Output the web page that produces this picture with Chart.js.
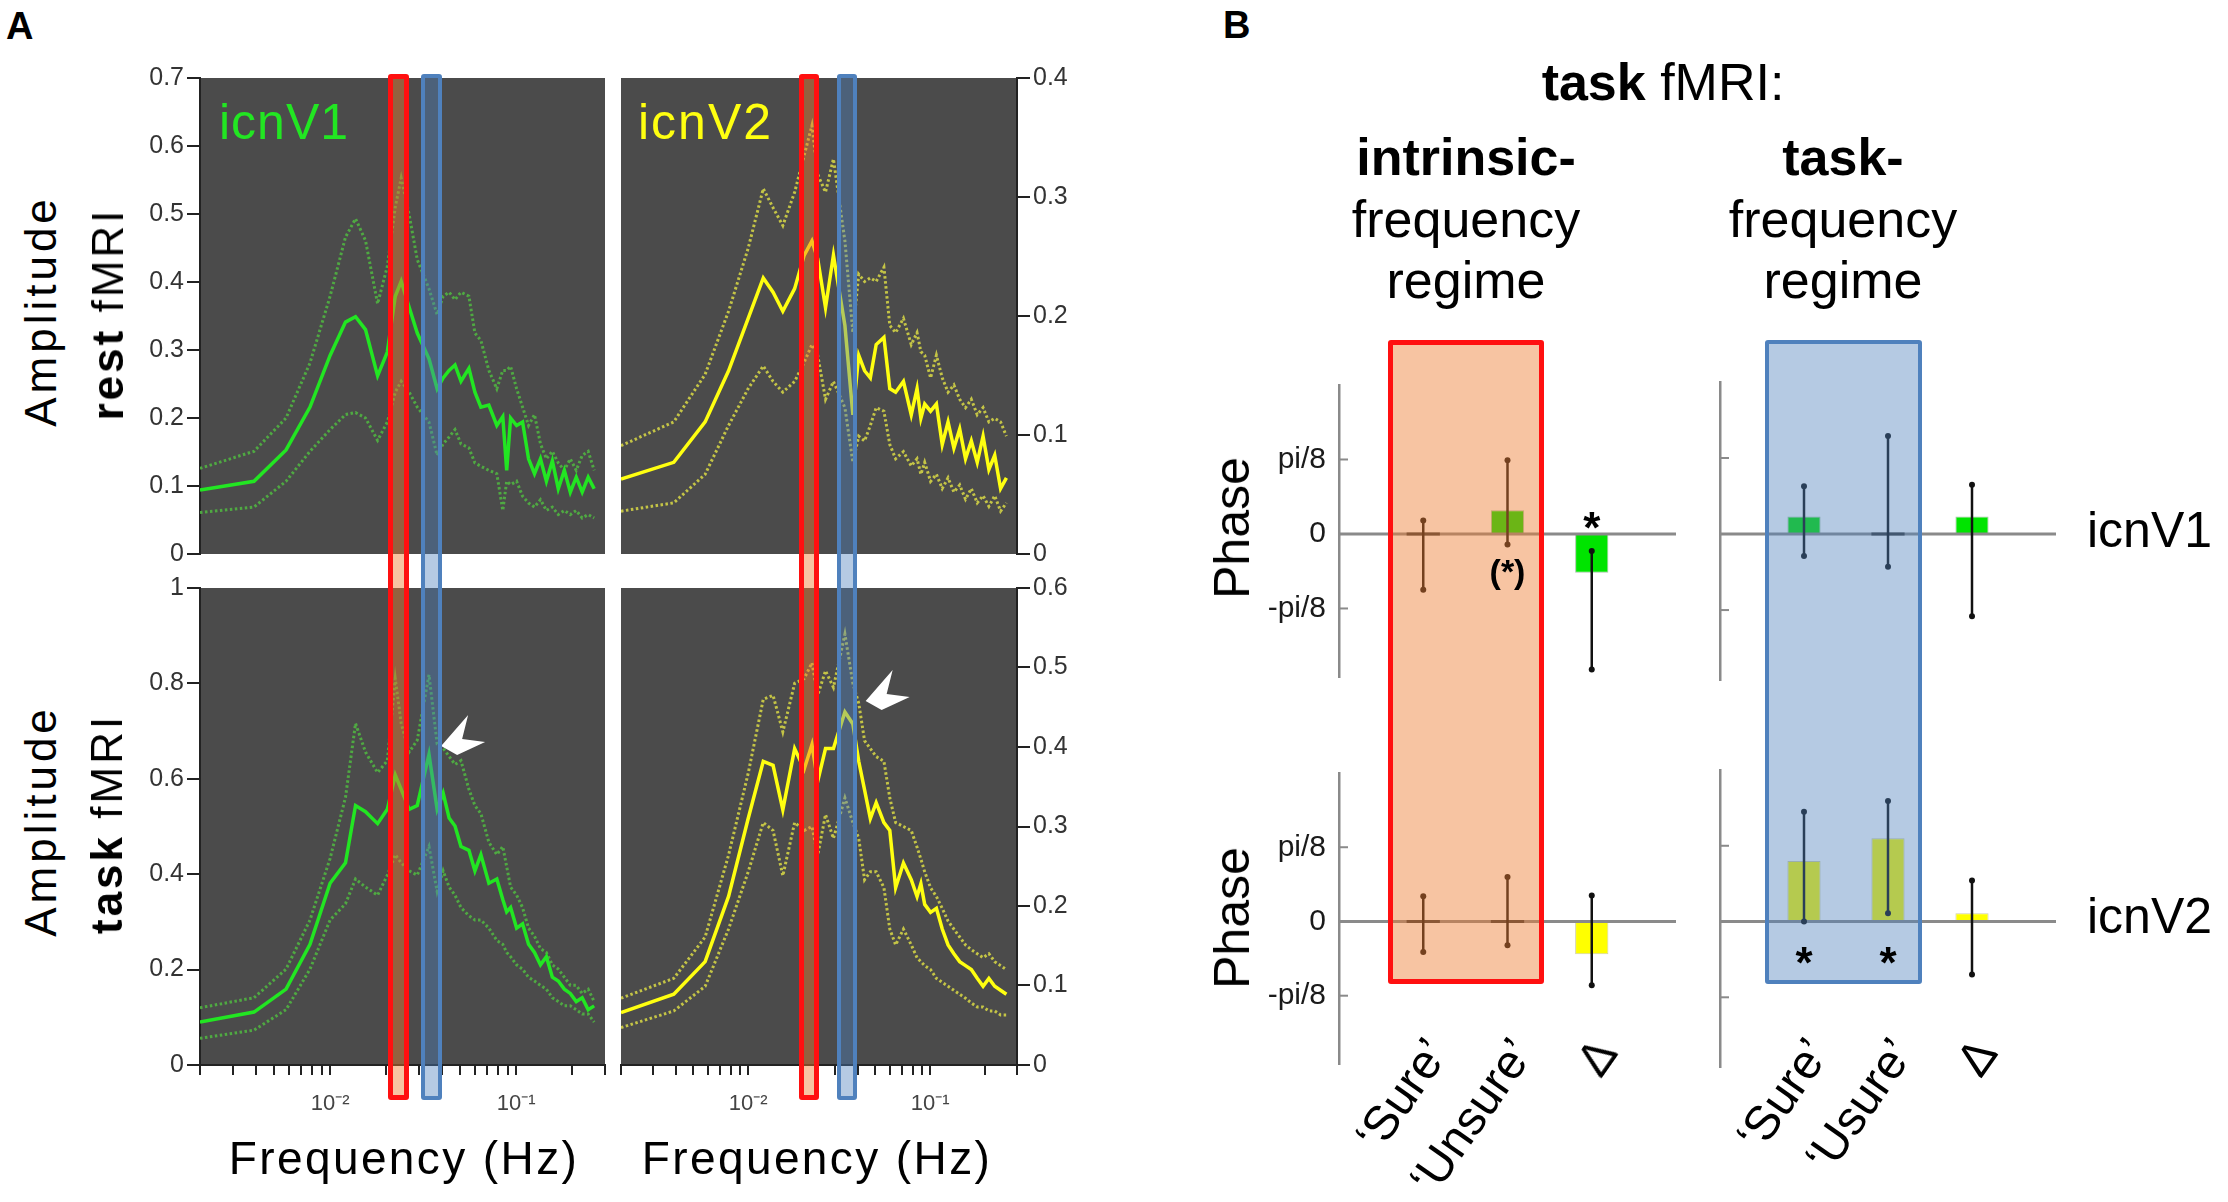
<!DOCTYPE html>
<html>
<head>
<meta charset="utf-8">
<title>Amplitude spectra and phase</title>
<script src="https://cdn.jsdelivr.net/npm/chart.js@4.4.1/dist/chart.umd.min.js"></script>
<style>
  html, body { margin: 0; padding: 0; background: #fff; }
  body { position: relative; width: 2228px; height: 1202px; overflow: hidden;
         font-family: "Liberation Sans", Arial, Helvetica, sans-serif; }
  canvas { position: absolute; }
  .txt { position: absolute; white-space: nowrap; line-height: 1; color: #000; }
  .band { position: absolute; box-sizing: border-box; border-radius: 3px; }
</style>
</head>
<body>
<script>
// ---------- Panel A: amplitude spectra ----------
const freqHz = [0.0020, 0.0039, 0.0058, 0.0078, 0.0100, 0.0121, 0.0137, 0.0155, 0.0180, 0.0203,
                0.0224, 0.0241, 0.0266, 0.0294, 0.0340, 0.0376, 0.0405, 0.0436, 0.0469, 0.0505,
                0.0557, 0.0600, 0.0646, 0.0713, 0.0787, 0.0847, 0.0889, 0.0933, 0.1005, 0.1082,
                0.1165, 0.1254, 0.1350, 0.1453, 0.1564, 0.1683, 0.1814, 0.1953, 0.2102, 0.2263,
                0.2437, 0.2624];

// rest fMRI, icnV1
const restV1Mean  = [0.094, 0.107, 0.153, 0.216, 0.292, 0.341, 0.349, 0.330, 0.262, 0.297, 0.379, 0.401, 0.363, 0.325, 0.287, 0.243, 0.259, 0.270, 0.278, 0.254, 0.273, 0.238, 0.216, 0.219, 0.189, 0.202, 0.123, 0.200, 0.189, 0.194, 0.140, 0.118, 0.140, 0.107, 0.137, 0.096, 0.123, 0.091, 0.113, 0.091, 0.113, 0.096];
const restV1Upper = [0.126, 0.151, 0.200, 0.281, 0.379, 0.466, 0.493, 0.461, 0.368, 0.423, 0.510, 0.553, 0.499, 0.433, 0.390, 0.352, 0.379, 0.385, 0.374, 0.385, 0.379, 0.325, 0.314, 0.270, 0.243, 0.270, 0.270, 0.276, 0.243, 0.216, 0.189, 0.205, 0.162, 0.140, 0.151, 0.134, 0.123, 0.140, 0.123, 0.145, 0.151, 0.123];
const restV1Lower = [0.061, 0.069, 0.107, 0.151, 0.183, 0.205, 0.208, 0.200, 0.167, 0.194, 0.238, 0.254, 0.238, 0.216, 0.194, 0.145, 0.162, 0.172, 0.183, 0.162, 0.156, 0.134, 0.129, 0.123, 0.118, 0.064, 0.107, 0.102, 0.107, 0.085, 0.075, 0.069, 0.080, 0.064, 0.069, 0.058, 0.064, 0.058, 0.064, 0.053, 0.058, 0.053];

// rest fMRI, icnV2
const restV2Mean  = [0.063, 0.077, 0.111, 0.154, 0.198, 0.232, 0.220, 0.204, 0.223, 0.251, 0.263, 0.248, 0.207, 0.251, 0.192, 0.117, 0.167, 0.154, 0.148, 0.176, 0.182, 0.139, 0.136, 0.145, 0.117, 0.139, 0.114, 0.126, 0.120, 0.126, 0.092, 0.111, 0.089, 0.105, 0.080, 0.095, 0.077, 0.099, 0.071, 0.083, 0.055, 0.064];
const restV2Upper = [0.091, 0.111, 0.151, 0.204, 0.257, 0.307, 0.291, 0.276, 0.304, 0.335, 0.360, 0.319, 0.304, 0.332, 0.263, 0.186, 0.235, 0.229, 0.232, 0.229, 0.241, 0.192, 0.186, 0.198, 0.176, 0.186, 0.170, 0.167, 0.148, 0.167, 0.148, 0.136, 0.142, 0.130, 0.123, 0.130, 0.117, 0.123, 0.111, 0.114, 0.111, 0.099];
const restV2Lower = [0.036, 0.043, 0.067, 0.108, 0.139, 0.158, 0.145, 0.136, 0.145, 0.161, 0.176, 0.167, 0.130, 0.145, 0.123, 0.077, 0.099, 0.095, 0.108, 0.123, 0.120, 0.092, 0.080, 0.086, 0.074, 0.080, 0.067, 0.077, 0.061, 0.067, 0.055, 0.064, 0.052, 0.058, 0.046, 0.055, 0.043, 0.049, 0.040, 0.049, 0.036, 0.043];

// task fMRI, icnV1
const taskV1Mean  = [0.090, 0.111, 0.159, 0.253, 0.381, 0.424, 0.544, 0.531, 0.506, 0.536, 0.608, 0.578, 0.536, 0.544, 0.651, 0.536, 0.570, 0.518, 0.501, 0.458, 0.450, 0.407, 0.441, 0.381, 0.390, 0.347, 0.321, 0.330, 0.287, 0.296, 0.253, 0.236, 0.210, 0.227, 0.184, 0.176, 0.159, 0.150, 0.133, 0.141, 0.116, 0.124];
const taskV1Upper = [0.120, 0.141, 0.201, 0.304, 0.433, 0.561, 0.716, 0.656, 0.613, 0.638, 0.810, 0.716, 0.656, 0.681, 0.818, 0.673, 0.664, 0.647, 0.630, 0.638, 0.578, 0.544, 0.527, 0.467, 0.441, 0.458, 0.416, 0.373, 0.356, 0.330, 0.287, 0.270, 0.244, 0.236, 0.210, 0.201, 0.184, 0.167, 0.167, 0.150, 0.159, 0.133];
const taskV1Lower = [0.056, 0.073, 0.116, 0.201, 0.304, 0.338, 0.390, 0.373, 0.356, 0.398, 0.441, 0.424, 0.407, 0.398, 0.458, 0.364, 0.407, 0.373, 0.356, 0.330, 0.313, 0.304, 0.304, 0.287, 0.261, 0.253, 0.236, 0.227, 0.210, 0.201, 0.184, 0.176, 0.167, 0.159, 0.141, 0.133, 0.124, 0.124, 0.116, 0.107, 0.107, 0.090];

// task fMRI, icnV2
const taskV2Mean  = [0.066, 0.089, 0.130, 0.212, 0.310, 0.382, 0.377, 0.321, 0.398, 0.372, 0.403, 0.357, 0.398, 0.398, 0.444, 0.429, 0.382, 0.346, 0.310, 0.330, 0.305, 0.295, 0.223, 0.254, 0.233, 0.212, 0.228, 0.202, 0.192, 0.197, 0.171, 0.151, 0.140, 0.130, 0.125, 0.120, 0.109, 0.099, 0.109, 0.099, 0.094, 0.089];
const taskV2Upper = [0.084, 0.109, 0.161, 0.264, 0.367, 0.460, 0.465, 0.419, 0.480, 0.486, 0.506, 0.465, 0.496, 0.475, 0.542, 0.480, 0.455, 0.408, 0.398, 0.388, 0.382, 0.336, 0.305, 0.300, 0.295, 0.274, 0.259, 0.243, 0.223, 0.212, 0.197, 0.181, 0.171, 0.161, 0.151, 0.145, 0.140, 0.135, 0.140, 0.130, 0.125, 0.120];
const taskV2Lower = [0.047, 0.068, 0.099, 0.171, 0.243, 0.305, 0.295, 0.238, 0.305, 0.295, 0.300, 0.264, 0.315, 0.285, 0.336, 0.305, 0.285, 0.233, 0.243, 0.243, 0.223, 0.171, 0.151, 0.171, 0.151, 0.135, 0.130, 0.125, 0.120, 0.109, 0.104, 0.099, 0.094, 0.089, 0.084, 0.078, 0.073, 0.073, 0.068, 0.068, 0.063, 0.063];

// axis ticks
const yTicksRestV1 = [0, 0.1, 0.2, 0.3, 0.4, 0.5, 0.6, 0.7];
const yTicksRestV2 = [0, 0.1, 0.2, 0.3, 0.4];
const yTicksTaskV1 = [0, 0.2, 0.4, 0.6, 0.8, 1];
const yTicksTaskV2 = [0, 0.1, 0.2, 0.3, 0.4, 0.5, 0.6];
const freqTicks = [0.002, 0.003, 0.004, 0.005, 0.006, 0.007, 0.008, 0.009,
                   0.01, 0.02, 0.03, 0.04, 0.05, 0.06, 0.07, 0.08, 0.09, 0.1, 0.2, 0.3];
const decadeLabels = { 0.01: '10⁻²', 0.1: '10⁻¹' };

// frequency regimes (Hz), left and right column
const intrinsicBand = { left: [0.0205, 0.0266], right: [0.0190, 0.0244] };
const taskBand      = { left: [0.0308, 0.0400], right: [0.0306, 0.0394] };

// arrow heads (frequency, amplitude)
const arrowTaskV1 = [0.0395, 0.669];
const arrowTaskV2 = [0.0442, 0.458];

// ---------- Panel B: phase (units of pi/8) ----------
const catIntrinsic = ['‘Sure’', '‘Unsure’', 'Δ'];
const catTask      = ['‘Sure’', '‘Usure’', 'Δ'];
const phaseTickValues = [-1, 0, 1];
const phaseTickLabels = ['-pi/8', '0', 'pi/8'];

const v1IntrinsicPhase = [0, 0.32, -0.52];
const v1IntrinsicLow   = [-0.75, -0.14, -1.82];
const v1IntrinsicHigh  = [0.18, 0.99, -0.23];
const v1TaskPhase = [0.23, 0, 0.23];
const v1TaskLow   = [-0.29, -0.43, -1.08];
const v1TaskHigh  = [0.63, 1.29, 0.65];
const v2IntrinsicPhase = [0, 0, -0.44];
const v2IntrinsicLow   = [-0.41, -0.32, -0.86];
const v2IntrinsicHigh  = [0.34, 0.60, 0.35];
const v2TaskPhase = [0.80, 1.10, 0.11];
const v2TaskLow   = [0, 0.11, -0.70];
const v2TaskHigh  = [1.45, 1.59, 0.54];

// significance marks: category position, phase value, text
const v1IntrinsicMarks = [[2, -0.53, '(*)'], [3, 0.22, '*']];
const v2TaskMarks = [[1, -0.41, '*'], [2, -0.41, '*']];

Chart.defaults.font.family = '"Liberation Sans", Arial, sans-serif';
Chart.defaults.animation = false;

// ---------- helpers ----------
function placeCanvas(area, m) {
  const c = document.createElement('canvas');
  const w = area.r - area.l + m.l + m.r, h = area.b - area.t + m.t + m.b;
  c.width = w; c.height = h;
  c.style.left = (area.l - m.l) + 'px';
  c.style.top = (area.t - m.t) + 'px';
  c.style.width = w + 'px'; c.style.height = h + 'px';
  document.body.appendChild(c);
  return c;
}

function addText(html, x, baseline, size, opt = {}) {
  const d = document.createElement('div');
  d.className = 'txt';
  d.innerHTML = html;
  d.style.fontSize = size + 'px';
  d.style.left = x + 'px';
  d.style.top = (baseline - 0.846 * size) + 'px';
  if (opt.weight) d.style.fontWeight = opt.weight;
  if (opt.color) d.style.color = opt.color;
  if (opt.spacing) d.style.letterSpacing = opt.spacing + 'px';
  const shift = opt.align === 'center' ? '-50%' : opt.align === 'right' ? '-100%' : '0';
  d.style.transform = 'translateX(' + shift + ')';
  document.body.appendChild(d);
  return d;
}

function addVertical(html, cx, cy, size, spacing) {
  const d = document.createElement('div');
  d.className = 'txt';
  d.innerHTML = html;
  d.style.fontSize = size + 'px';
  d.style.left = cx + 'px';
  d.style.top = cy + 'px';
  if (spacing) d.style.letterSpacing = spacing + 'px';
  d.style.transform = 'translate(-50%, -50%) rotate(-90deg)';
  document.body.appendChild(d);
}

function addSlanted(html, x, y, size) {
  const d = document.createElement('div');
  d.className = 'txt';
  d.innerHTML = html;
  d.style.fontSize = size + 'px';
  d.style.left = x + 'px';
  d.style.top = y + 'px';
  d.style.transformOrigin = '0 0';
  d.style.transform = 'rotate(-55deg) translate(-100%, -50%)';
  document.body.appendChild(d);
}

function addBand(x0, x1, y0, y1, border, fill, bw) {
  const d = document.createElement('div');
  d.className = 'band';
  d.style.left = x0 + 'px';
  d.style.top = y0 + 'px';
  d.style.width = (x1 - x0) + 'px';
  d.style.height = (y1 - y0) + 'px';
  d.style.border = bw + 'px solid ' + border;
  d.style.background = fill;
  document.body.appendChild(d);
}

const pageX = (chart, v) => chart.canvas.offsetLeft + chart.scales.x.getPixelForValue(v);
const pageY = (chart, v) => chart.canvas.offsetTop + chart.scales.y.getPixelForValue(v);

// dark plot background
const plotBackground = {
  id: 'plotBackground',
  beforeDraw(chart) {
    const { ctx, chartArea: a } = chart;
    ctx.save();
    ctx.fillStyle = '#4b4b4b';
    ctx.fillRect(a.left, a.top, a.width, a.height);
    ctx.restore();
  }
};

function makeArrow(at) {
  return {
    id: 'whiteArrow',
    afterDatasetsDraw(chart) {
      const { ctx, scales: { x, y } } = chart;
      const px = x.getPixelForValue(at[0]), py = y.getPixelForValue(at[1]);
      const shape = [[0, 0], [27, -31], [21, -7], [44, -4], [16, 9]];
      ctx.save();
      ctx.fillStyle = '#ffffff';
      ctx.beginPath();
      shape.forEach(([dx, dy], i) => i ? ctx.lineTo(px + dx, py + dy) : ctx.moveTo(px + dx, py + dy));
      ctx.closePath();
      ctx.fill();
      ctx.restore();
    }
  };
}

function spectrumChart(area, side, showX, yTicks, series, colors, arrowAt) {
  const axisW = 80, xH = 70;
  const m = { l: side === 'left' ? axisW : 20, r: side === 'right' ? axisW : 20, t: 25, b: showX ? xH : 25 };
  const canvas = placeCanvas(area, m);
  const pts = s => freqHz.map((f, i) => ({ x: f, y: s[i] }));
  const plugins = [plotBackground];
  if (arrowAt) plugins.push(makeArrow(arrowAt));
  return new Chart(canvas, {
    type: 'line',
    data: {
      datasets: [
        { data: pts(series[0]), borderColor: colors[0], borderWidth: 3.5 },
        { data: pts(series[1]), borderColor: colors[1], borderWidth: 3, borderDash: [2.5, 2.5] },
        { data: pts(series[2]), borderColor: colors[1], borderWidth: 3, borderDash: [2.5, 2.5] }
      ]
    },
    options: {
      responsive: false,
      animation: false,
      layout: { padding: { left: side === 'left' ? 0 : 20, right: side === 'right' ? 0 : 20, top: 25, bottom: showX ? 0 : 25 } },
      elements: { point: { radius: 0 }, line: { tension: 0, fill: false } },
      plugins: { legend: { display: false }, tooltip: { enabled: false } },
      scales: {
        x: {
          type: 'logarithmic', min: 0.002, max: 0.3, display: showX,
          afterFit: s => { if (showX) s.height = xH; },
          afterBuildTicks: s => { s.ticks = freqTicks.map(v => ({ value: v })); },
          ticks: { autoSkip: false, maxRotation: 0, callback: v => decadeLabels[v] || '',
                   font: { size: 22 }, color: '#444', padding: 16 },
          grid: { drawOnChartArea: false, tickLength: 10, color: '#222', lineWidth: 2 },
          border: { color: '#222', width: 2 }
        },
        y: {
          position: side, min: 0, max: yTicks[yTicks.length - 1],
          afterFit: s => { s.width = axisW; },
          afterBuildTicks: s => { s.ticks = yTicks.map(v => ({ value: v })); },
          ticks: { callback: v => String(+v.toFixed(1)), font: { size: 25 }, color: '#333', padding: 3 },
          grid: { drawOnChartArea: false, tickLength: 13, color: '#222', lineWidth: 2 },
          border: { color: '#222', width: 2 }
        }
      }
    },
    plugins
  });
}

function makePhaseDecor(values, low, high) {
  return {
    id: 'phaseDecor',
    afterDatasetsDraw(chart) {
      const { ctx, chartArea: a, scales: { y } } = chart;
      const bars = chart.getDatasetMeta(0).data;
      ctx.save();
      const y0 = y.getPixelForValue(0);
      ctx.strokeStyle = '#8a8a8a';
      ctx.lineWidth = 3;
      ctx.beginPath(); ctx.moveTo(a.left, y0); ctx.lineTo(a.right, y0); ctx.stroke();
      // flat (zero) bars show as a dark edge on the zero line
      ctx.strokeStyle = '#3a3a3a';
      bars.forEach((bar, i) => {
        if (values[i] !== 0) return;
        ctx.beginPath(); ctx.moveTo(bar.x - bar.width / 2, y0); ctx.lineTo(bar.x + bar.width / 2, y0); ctx.stroke();
      });
      ctx.strokeStyle = '#8a8a8a';
      ctx.lineWidth = 2;
      [-1, 1].forEach(v => {
        const py = y.getPixelForValue(v);
        ctx.beginPath(); ctx.moveTo(a.left, py); ctx.lineTo(a.left + 9, py); ctx.stroke();
      });
      ctx.strokeStyle = '#111';
      ctx.fillStyle = '#111';
      ctx.lineWidth = 2.5;
      bars.forEach((bar, i) => {
        const top = y.getPixelForValue(high[i]), bot = y.getPixelForValue(low[i]);
        ctx.beginPath(); ctx.moveTo(bar.x, top); ctx.lineTo(bar.x, bot); ctx.stroke();
        [top, bot].forEach(py => { ctx.beginPath(); ctx.arc(bar.x, py, 3, 0, Math.PI * 2); ctx.fill(); });
      });
      ctx.restore();
    }
  };
}

function phaseChart(area, showLabels, values, low, high, color, edge) {
  const axisW = showLabels ? 110 : 20;
  const canvas = placeCanvas(area, { l: axisW, r: 20, t: 20, b: 20 });
  return new Chart(canvas, {
    type: 'bar',
    data: {
      datasets: [{
        data: values.map((v, i) => ({ x: i + 1, y: v })),
        backgroundColor: color, borderColor: edge, borderWidth: 1,
        barPercentage: 1, categoryPercentage: 0.79
      }]
    },
    options: {
      responsive: false,
      animation: false,
      layout: { padding: { left: 0, right: 20, top: 20, bottom: 20 } },
      plugins: { legend: { display: false }, tooltip: { enabled: false } },
      scales: {
        x: { type: 'linear', min: 0, max: 4, offset: false, display: false },
        y: {
          min: -1.92, max: 2,
          afterFit: s => { s.width = axisW; },
          afterBuildTicks: s => { s.ticks = phaseTickValues.map(v => ({ value: v })); },
          grid: { display: false },
          border: { color: '#8a8a8a', width: 2.5 },
          ticks: { display: showLabels, callback: v => phaseTickLabels[phaseTickValues.indexOf(v)],
                   font: { size: 30 }, color: '#1a1a1a', padding: 5 }
        }
      }
    },
    plugins: [makePhaseDecor(values, low, high)]
  });
}

// ---------- build panel A ----------
const green = ['#22e622', 'rgba(80,180,65,0.9)'];
const yellow = ['#ffff10', 'rgba(210,210,70,0.9)'];

const chartRestV1 = spectrumChart({ l: 200, t: 78, r: 605, b: 554 }, 'left', false, yTicksRestV1,
  [restV1Mean, restV1Upper, restV1Lower], green);
const chartRestV2 = spectrumChart({ l: 621, t: 78, r: 1017, b: 554 }, 'right', false, yTicksRestV2,
  [restV2Mean, restV2Upper, restV2Lower], yellow);
const chartTaskV1 = spectrumChart({ l: 200, t: 588, r: 605, b: 1065 }, 'left', true, yTicksTaskV1,
  [taskV1Mean, taskV1Upper, taskV1Lower], green, arrowTaskV1);
const chartTaskV2 = spectrumChart({ l: 621, t: 588, r: 1017, b: 1065 }, 'right', true, yTicksTaskV2,
  [taskV2Mean, taskV2Upper, taskV2Lower], yellow, arrowTaskV2);

// ---------- build panel B ----------
const phaseV1Intr = phaseChart({ l: 1339, t: 382, r: 1676, b: 680 }, true, v1IntrinsicPhase, v1IntrinsicLow, v1IntrinsicHigh, '#00e400', 'rgba(0,90,0,0.35)');
const phaseV1Task = phaseChart({ l: 1720, t: 382, r: 2056, b: 680 }, false, v1TaskPhase, v1TaskLow, v1TaskHigh, '#00e400', 'rgba(0,90,0,0.35)');
const phaseV2Intr = phaseChart({ l: 1339, t: 770, r: 1676, b: 1067 }, true, v2IntrinsicPhase, v2IntrinsicLow, v2IntrinsicHigh, '#ffff00', 'rgba(120,120,0,0.35)');
const phaseV2Task = phaseChart({ l: 1720, t: 770, r: 2056, b: 1067 }, false, v2TaskPhase, v2TaskLow, v2TaskHigh, '#ffff00', 'rgba(120,120,0,0.35)');

// ---------- frequency-regime boxes ----------
const RED = '#ff1010', RED_FILL = 'rgba(237,125,49,0.45)';
const BLUE = '#4f81bd', BLUE_FILL = 'rgba(79,129,189,0.42)';
[[chartRestV1, chartTaskV1, 'left'], [chartRestV2, chartTaskV2, 'right']].forEach(([top, bottom, col]) => {
  const y0 = top.canvas.offsetTop + top.chartArea.top - 4;
  const y1 = bottom.canvas.offsetTop + bottom.chartArea.bottom + 35;
  addBand(pageX(bottom, intrinsicBand[col][0]), pageX(bottom, intrinsicBand[col][1]), y0, y1, RED, RED_FILL, 5);
  addBand(pageX(bottom, taskBand[col][0]), pageX(bottom, taskBand[col][1]), y0, y1, BLUE, BLUE_FILL, 4);
});
{
  const y0 = phaseV1Intr.canvas.offsetTop + phaseV1Intr.chartArea.top - 45;
  const y1 = phaseV2Intr.canvas.offsetTop + phaseV2Intr.chartArea.bottom - 80;
  addBand(pageX(phaseV1Intr, 0.58), pageX(phaseV1Intr, 2.43), y0, y1, RED, RED_FILL, 5);
  addBand(pageX(phaseV1Task, 0.53), pageX(phaseV1Task, 2.41), y0, y1, BLUE, BLUE_FILL, 4);
}

// significance marks (drawn over the boxes)
function addMarks(chart, marks) {
  marks.forEach(([pos, val, text]) => {
    const size = text === '*' ? 44 : 34;
    const lift = text === '*' ? 0.58 : 0.26;
    addText(text, pageX(chart, pos), pageY(chart, val) + lift * size, size, { align: 'center', weight: 'bold' });
  });
}
addMarks(phaseV1Intr, v1IntrinsicMarks);
addMarks(phaseV2Task, v2TaskMarks);

// category labels under the lower phase charts
[[phaseV2Intr, catIntrinsic], [phaseV2Task, catTask]].forEach(([chart, cats]) => {
  cats.forEach((c, i) => addSlanted(c, pageX(chart, i + 1) + 14, 1044, 48));
});

// ---------- text ----------
addText('A', 6, 39, 38, { weight: 'bold' });
addText('B', 1223, 38, 38, { weight: 'bold' });

addText('icnV1', 219, 139, 50, { color: '#22e622', spacing: 1 });
addText('icnV2', 638, 139, 50, { color: '#ffff10', spacing: 2 });

addVertical('Amplitude', 41, 311, 44, 4);
addVertical('<b>rest</b> fMRI', 108, 314, 44, 3);
addVertical('Amplitude', 41, 821, 44, 4);
addVertical('<b>task</b> fMRI', 107, 824, 44, 3);

addText('Frequency (Hz)', 404, 1174, 46, { align: 'center', spacing: 2.4 });
addText('Frequency (Hz)', 817, 1174, 46, { align: 'center', spacing: 2.4 });

addText('<b>task</b> fMRI:', 1663, 100, 52, { align: 'center' });
addText('<b>intrinsic-</b>', 1466, 175, 52, { align: 'center' });
addText('frequency', 1466, 237, 52, { align: 'center' });
addText('regime', 1466, 298, 52, { align: 'center' });
addText('<b>task-</b>', 1843, 175, 52, { align: 'center' });
addText('frequency', 1843, 237, 52, { align: 'center' });
addText('regime', 1843, 298, 52, { align: 'center' });

addVertical('Phase', 1232, 528, 50);
addVertical('Phase', 1232, 918, 50);
addText('icnV1', 2087, 547, 50);
addText('icnV2', 2087, 933, 50);
</script>
</body>
</html>
